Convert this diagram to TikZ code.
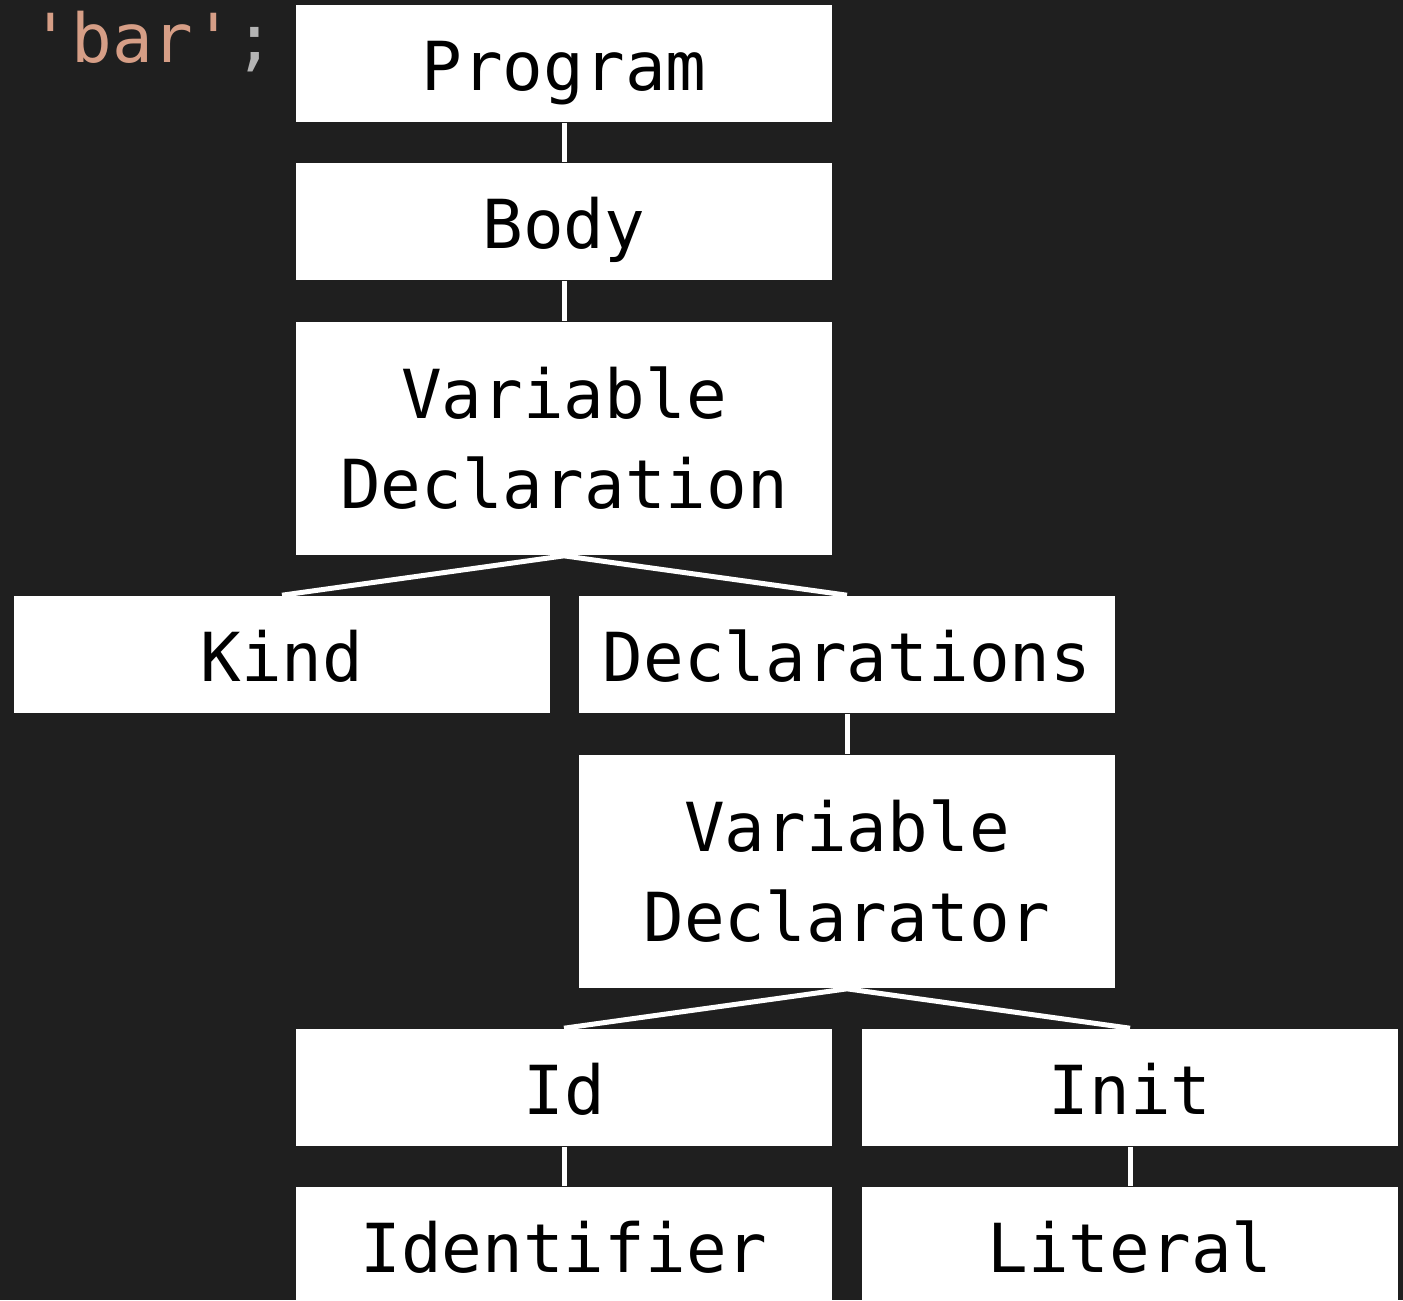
\documentclass[tikz,border=0pt]{standalone}
\usepackage{fontspec}
\usepackage{xcolor}
\usepackage{tikz}
\setmonofont{DejaVu Sans Mono}
\definecolor{editorbg}{HTML}{1F1F1F}
\definecolor{strcolor}{HTML}{D69E86}
\definecolor{punctcolor}{HTML}{B4B4B4}
\tikzset{
  astbase/.style={fill=white,inner sep=0pt,minimum width=134pt,
    align=center,font=\fontsize{16.9}{22.5}\selectfont\ttfamily,text=black},
  astbox/.style={astbase,minimum height=29.25pt,text height=13.25pt,text depth=0pt},
  astbox2/.style={astbase,minimum height=58.25pt},
  edge/.style={draw=white,line width=1.25pt}
}

\begin{document}
\begin{tikzpicture}[x=0.25pt,y=-0.25pt]
        \fill[editorbg] (0,0) rectangle (1403,1300);
        \useasboundingbox (0,0) rectangle (1403,1300);
        \clip (0,0) rectangle (1403,1300);
        \node[anchor=base west,inner sep=0pt,font=\fontsize{16.9}{22.5}\selectfont\ttfamily] (code) at (30,62) {\textcolor{strcolor}{'bar'}\textcolor{punctcolor}{;}};
        \node[astbox] (program) at (564,63.5) {Program}; %1
        \node[astbox] (body) at (564,221.5) {Body}; %2
        \node[astbox2] (vardecl) at (564,438.5) {Variable\\Declaration}; %3
        \node[astbox] (kind) at (282,654.5) {Kind}; %4
        \node[astbox] (decls) at (847,654.5) {Declarations}; %5
        \node[astbox2] (declarator) at (847,871.5) {Variable\\Declarator}; %6
        \node[astbox] (id) at (564,1087.5) {Id}; %7
        \node[astbox] (init) at (1130,1087.5) {Init}; %8
        \node[astbox] (ident) at (564,1245.5) {Identifier}; %9
        \node[astbox] (literal) at (1130,1245.5) {Literal}; %10
        \draw[edge] (program.south) -- (body.north);
        \draw[edge] (body.south) -- (vardecl.north);
        \draw[edge] (vardecl.south) -- (kind.north);
        \draw[edge] (vardecl.south) -- (decls.north);
        \draw[edge] (decls.south) -- (declarator.north);
        \draw[edge] (declarator.south) -- (id.north);
        \draw[edge] (declarator.south) -- (init.north);
        \draw[edge] (id.south) -- (ident.north);
        \draw[edge] (init.south) -- (literal.north);
    \end{tikzpicture}
\end{document}
